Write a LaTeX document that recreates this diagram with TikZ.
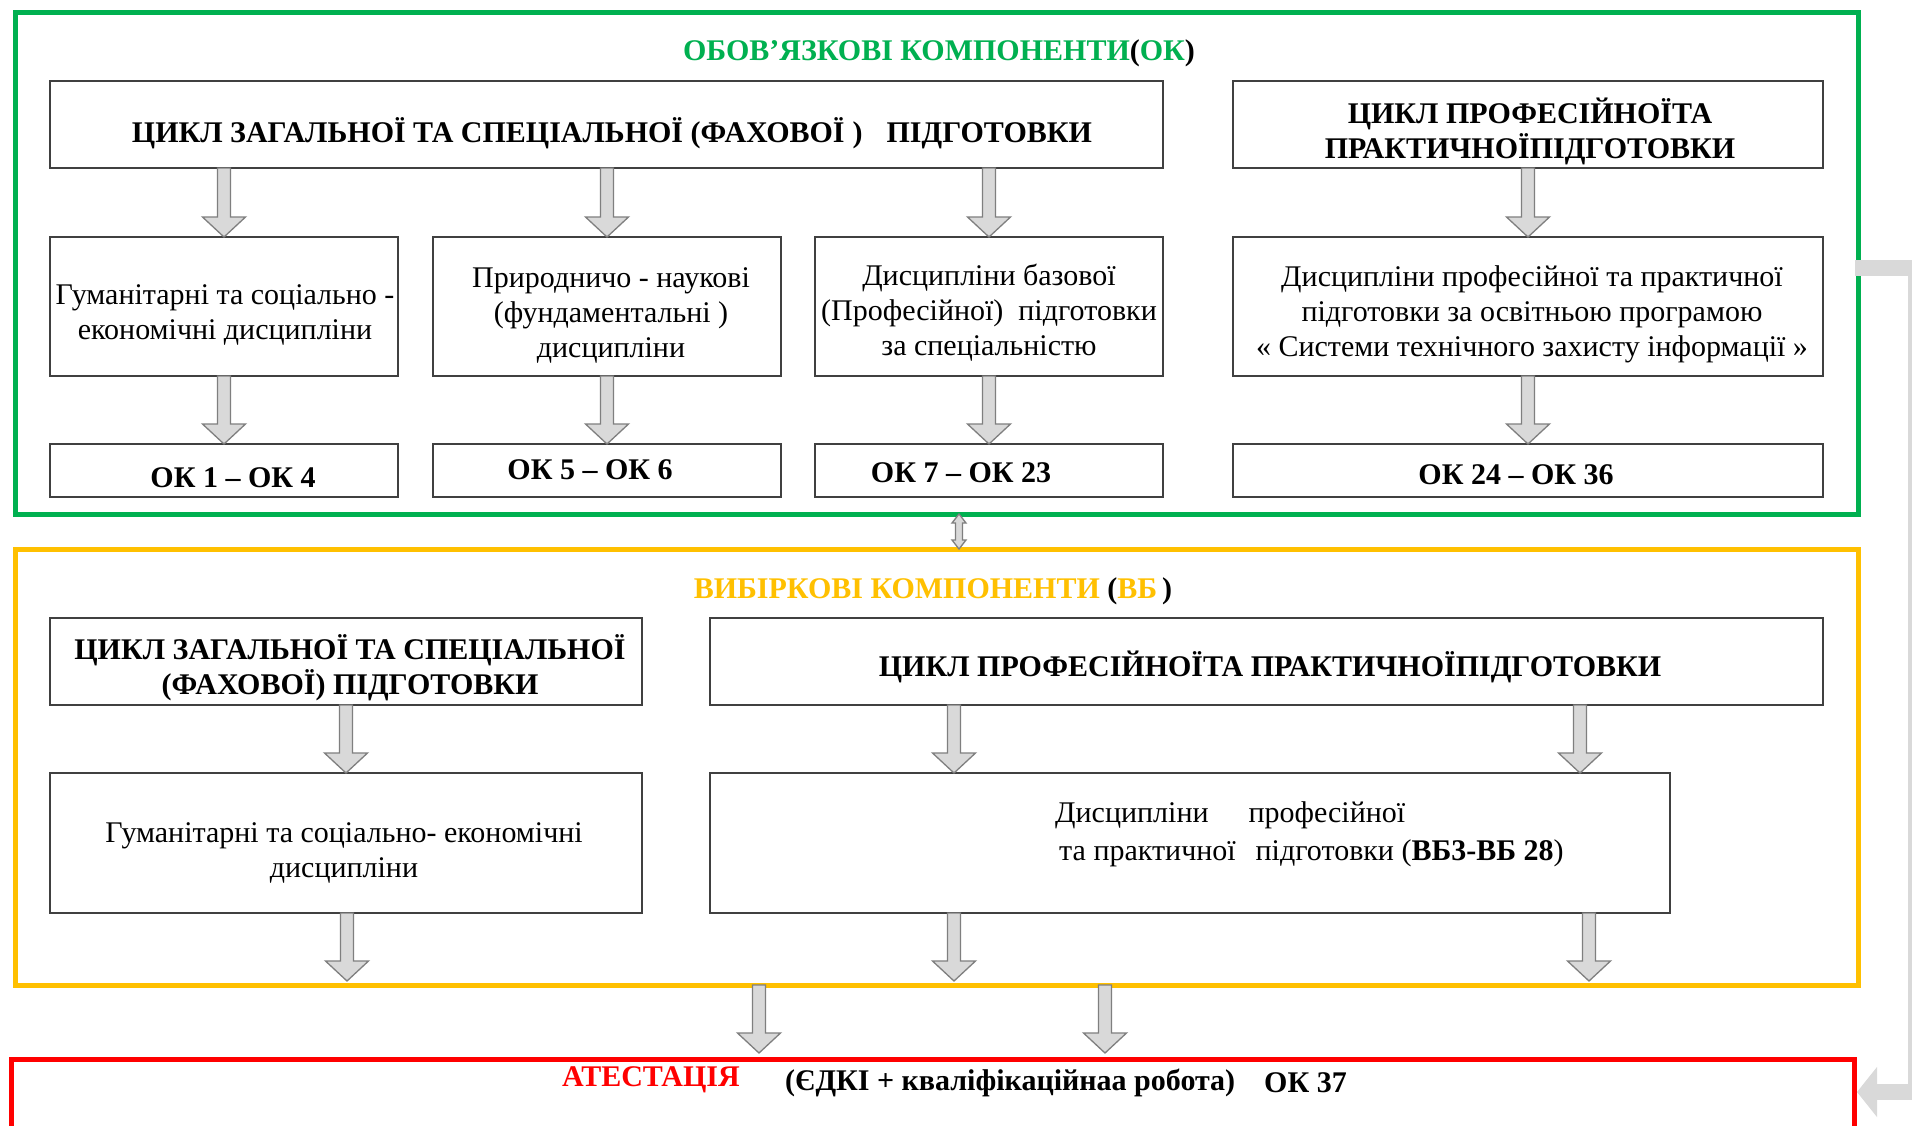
\documentclass[tikz,border=0pt]{standalone}
\usepackage{fontspec}
\setmainfont{Liberation Serif}
\usetikzlibrary{calc,arrows.meta}
\definecolor{okgreen}{HTML}{00B050}
\definecolor{vbyellow}{HTML}{FFC000}
\definecolor{atred}{HTML}{FF0000}
\definecolor{boxline}{HTML}{404040}
\definecolor{arrfill}{HTML}{D9D9D9}
\definecolor{arrline}{HTML}{7F7F7F}
\newcommand\blockarrow[2]{%
  \path[blockar] let \p1=(#1), \p2=(#2) in
    (\x2-6.5pt,\y1) -- (\x2-6.5pt,\y2+20pt) -- (\x2-21.5pt,\y2+20pt) -- (\x2,\y2)
    -- (\x2+21.5pt,\y2+20pt) -- (\x2+6.5pt,\y2+20pt) -- (\x2+6.5pt,\y1) -- cycle;}
\begin{document}
\begin{tikzpicture}[x=1pt,y=-1pt,
  zoneframe/.style={draw=#1, line width=5pt, inner sep=0pt, outer sep=0pt},
  box/.style={draw=boxline, line width=1.6pt, inner sep=0pt, outer sep=0pt},
  txt/.style={align=center, inner sep=0pt, font=\fontsize{30}{35}\selectfont},
  btxt/.style={align=center, inner sep=0pt, font=\fontsize{30}{35}\selectfont\bfseries},
  ttl/.style={inner sep=0pt, font=\fontsize{30}{35}\selectfont\bfseries},
  blockar/.style={fill=arrfill, draw=arrline, line width=1.3pt, line join=miter},
  elbow/.style={draw=arrfill, line width=16pt, line join=miter, -{Triangle[width=49pt,length=20pt]}},
]
\useasboundingbox (0,0) rectangle (1912,1125);
\clip (0,0) rectangle (1912,1125);
\fill[white] (0,0) rectangle (1912,1125);

% zones
\node[zoneframe=okgreen, minimum width=1843pt, minimum height=502pt] (ok) at (936.5,263) {};
\node[zoneframe=vbyellow, minimum width=1843pt, minimum height=436pt] (vb) at (936.5,767) {};
\node[zoneframe=atred, minimum width=1843pt, minimum height=200pt] (at) at (932.5,1159) {};

% titles
\node[ttl, text=okgreen] (okt) at (939,53) {ОБОВ’ЯЗКОВІ КОМПОНЕНТИ\textcolor{black}{(}ОК\textcolor{black}{)}};
\node[ttl, text=vbyellow] (vbt) at (933,591) {ВИБІРКОВІ КОМПОНЕНТИ \textcolor{black}{(}ВБ\textcolor{black}{\,)}};

% top row
\node[box, minimum width=1113pt, minimum height=87pt] (A) at (606.5,124.5) {};
\node[btxt] (At) at (612,133) {ЦИКЛ ЗАГАЛЬНОЇ ТА СПЕЦІАЛЬНОЇ (ФАХОВОЇ\hspace{8pt})\hspace{24pt}ПІДГОТОВКИ};
\node[box, minimum width=590pt, minimum height=87pt] (B) at (1528,124.5) {};
\node[btxt] (Bt) at (1530,131) {ЦИКЛ ПРОФЕСІЙНОЇТА\\ПРАКТИЧНОЇПІДГОТОВКИ};

\node[box, minimum width=348pt, minimum height=139pt] (B1) at (224,306.5) {};
\node[box, minimum width=348pt, minimum height=139pt] (B2) at (607,306.5) {};
\node[box, minimum width=348pt, minimum height=139pt] (B3) at (989,306.5) {};
\node[box, minimum width=590pt, minimum height=139pt] (B4) at (1528,306.5) {};
\node[txt] (B1t) at (225,315) {Гуманітарні та соціально -\\економічні дисципліни};
\node[txt] (B2t) at (611,315) {Природничо - наукові\\(фундаментальні )\\дисципліни};
\node[txt] (B3t) at (989,313) {Дисципліни базової\\(Професійної)\ \ підготовки\\за спеціальністю};
\node[txt] (B4t) at (1532,314) {Дисципліни професійної та практичної\\підготовки за освітньою програмою\\«~Системи технічного захисту інформації~»};

\node[box, minimum width=348pt, minimum height=53pt] (O1) at (224,470.5) {};
\node[box, minimum width=348pt, minimum height=53pt] (O2) at (607,470.5) {};
\node[box, minimum width=348pt, minimum height=53pt] (O3) at (989,470.5) {};
\node[box, minimum width=590pt, minimum height=53pt] (O4) at (1528,470.5) {};
\node[btxt] (O1t) at (233,478) {ОК 1 – ОК 4};
\node[btxt] (O2t) at (590,470) {ОК 5 – ОК 6};
\node[btxt] (O3t) at (961,473) {ОК 7 – ОК 23};
\node[btxt] (O4t) at (1516,475) {ОК 24 – ОК 36};

\blockarrow{A.south}{B1.north}
\blockarrow{A.south}{B2.north}
\blockarrow{A.south}{B3.north}
\blockarrow{B.south}{B4.north}
\blockarrow{B1.south}{O1.north}
\blockarrow{B2.south}{O2.north}
\blockarrow{B3.south}{O3.north}
\blockarrow{B4.south}{O4.north}

% double arrow between zones
\path[blockar] let \p1=(ok.south), \p2=(vb.north) in
  (959pt,\y1) -- (966pt,\y1-9pt) -- (962.5pt,\y1-9pt) -- (962.5pt,\y2+9pt) -- (966pt,\y2+9pt)
  -- (959pt,\y2) -- (952pt,\y2+9pt) -- (955.5pt,\y2+9pt) -- (955.5pt,\y1-9pt) -- (952pt,\y1-9pt) -- cycle;

% elective zone
\node[box, minimum width=592pt, minimum height=87pt] (VL1) at (346,661.5) {};
\node[btxt] (VL1t) at (350,668) {ЦИКЛ ЗАГАЛЬНОЇ ТА СПЕЦІАЛЬНОЇ\\(ФАХОВОЇ) ПІДГОТОВКИ};
\node[box, minimum width=592pt, minimum height=140pt] (VL2) at (346,843) {};
\node[txt] (VL2t) at (344,853) {Гуманітарні та соціально- економічні\\дисципліни};
\node[box, minimum width=1113pt, minimum height=87pt] (VR1) at (1266.5,661.5) {};
\node[btxt] (VR1t) at (1270,667) {ЦИКЛ ПРОФЕСІЙНОЇТА ПРАКТИЧНОЇПІДГОТОВКИ};
\node[box, minimum width=960pt, minimum height=140pt] (VR2) at (1190,843) {};
\node[align=left, inner sep=0pt, font=\fontsize{30}{38}\selectfont, anchor=west] (VR2t) at (1055,834) {Дисципліни\hspace{40pt}професійної\\\hspace*{4pt}та практичної\hspace{20pt}підготовки (\textbf{ВБ3-ВБ 28})};

\coordinate (vr2a) at (954,773);
\coordinate (vr2b) at (1580,773);
\coordinate (e1) at (347,981);
\coordinate (e2) at (954,981);
\coordinate (e3) at (1589,981);
\coordinate (t1) at (759,1053);
\coordinate (t2) at (1105,1053);
\blockarrow{VL1.south}{VL2.north}
\blockarrow{VR1.south}{vr2a}
\blockarrow{VR1.south}{vr2b}
\blockarrow{VL2.south}{e1}
\blockarrow{VR2.south}{e2}
\blockarrow{VR2.south}{e3}
\blockarrow{vb.south}{t1}
\blockarrow{vb.south}{t2}

% attestation
\node[btxt, text=atred, anchor=west] (at1) at (562,1080) {АТЕСТАЦІЯ};
\node[btxt, anchor=west] (at2) at (785,1083) {(ЄДКІ + кваліфікаційнаа робота)};
\node[btxt, anchor=west] (at3) at (1264,1083) {ОК 37};

% feedback connector
\coordinate (g1) at (1855,268);
\coordinate (g2) at (1916,268);
\coordinate (g3) at (1916,1092);
\coordinate (g4) at (1857,1092);
\draw[elbow] (g1) -- (g2) -- (g3) -- (g4);
\end{tikzpicture}
\end{document}
